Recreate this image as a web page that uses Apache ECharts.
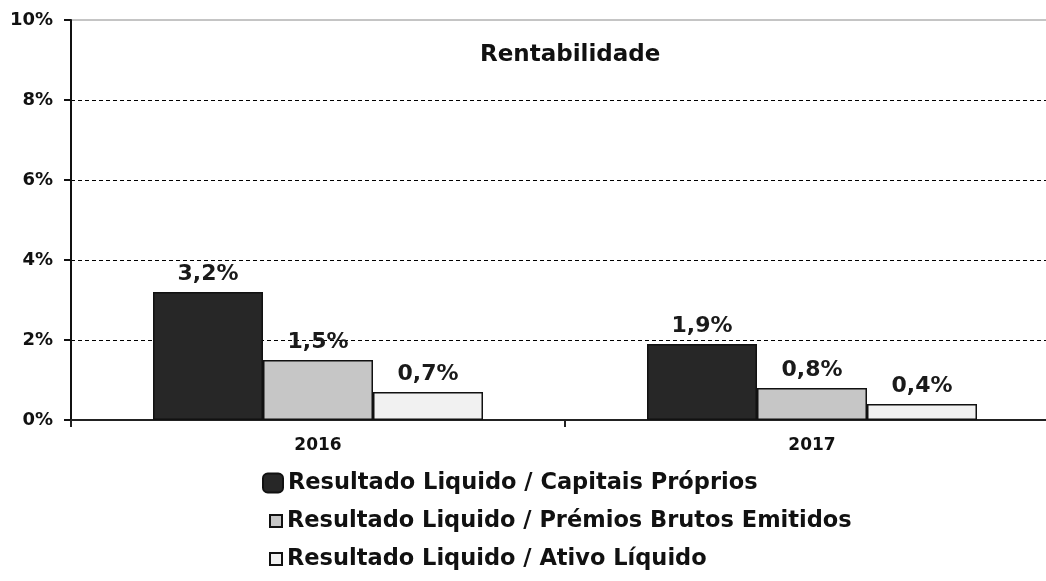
<!DOCTYPE html>
<html>
<head>
<meta charset="utf-8">
<script src="https://cdn.jsdelivr.net/npm/echarts@6/dist/echarts.min.js"></script>
<style>html,body{margin:0;padding:0;background:#fff;overflow:hidden;}#c{width:1060px;height:581px;}</style>
</head>
<body>
<div id="c"></div>
<script>
const categories = ['2016', '2017'];
const seriesNames = [
  'Resultado Liquido / Capitais Próprios',
  'Resultado Liquido / Prémios Brutos Emitidos',
  'Resultado Liquido / Ativo Líquido'
];
const capitaisProprios = [3.2, 1.9];
const premiosBrutos = [1.5, 0.8];
const ativoLiquido = [0.7, 0.4];
const yTicks = [0, 2, 4, 6, 8, 10];

const FONT = 'DejaVu Sans';
const colors = ['#272727', '#c6c6c6', '#f1f1f1'];
const values = [capitaisProprios, premiosBrutos, ativoLiquido];
const legendText = {fontFamily: FONT, fontWeight: 'bold', fontSize: 22.5, color: '#111', lineHeight: 24};

const chart = echarts.init(document.getElementById('c'), null, {renderer: 'canvas'});
chart.setOption({
  animation: false,
  backgroundColor: '#fff',
  title: {
    text: 'Rentabilidade',
    left: 475, top: 39,
    textStyle: {fontFamily: FONT, fontWeight: 'bold', fontSize: 23, color: '#111'}
  },
  grid: {
    left: 71, top: 20, width: 988, bottom: 161,
    show: true, borderColor: '#8a8a8a', borderWidth: 1, backgroundColor: 'transparent'
  },
  legend: [
    {
      orient: 'vertical', left: 262, top: 471, padding: 0,
      itemWidth: 20, itemHeight: 19, icon: 'roundRect',
      data: [seriesNames[0]],
      textStyle: legendText
    },
    {
      orient: 'vertical', left: 269, top: 509, padding: 0,
      itemWidth: 12, itemHeight: 12, itemGap: 14, icon: 'rect',
      data: [seriesNames[1], seriesNames[2]],
      textStyle: legendText
    }
  ],
  xAxis: {
    type: 'category',
    data: categories,
    axisLine: {lineStyle: {color: '#222', width: 2}},
    axisTick: {show: true, length: 7, lineStyle: {color: '#222', width: 2}},
    axisLabel: {fontFamily: FONT, fontWeight: 'bold', fontSize: 17, color: '#111', margin: 17}
  },
  yAxis: {
    type: 'value',
    min: yTicks[0], max: yTicks[yTicks.length - 1], interval: 2,
    axisLine: {show: true, lineStyle: {color: '#111', width: 2}},
    axisTick: {show: true, length: 7, lineStyle: {color: '#111', width: 2}},
    axisLabel: {
      fontFamily: FONT, fontWeight: 'bold', fontSize: 18, color: '#111', margin: 18,
      formatter: v => v + '%'
    },
    splitLine: {
      show: true,
      lineStyle: {
        type: [4, 3], width: 1.2,
        color: ['#000', '#000', '#000', '#000', '#000', 'rgba(0,0,0,0)']
      }
    }
  },
  series: seriesNames.map((name, i) => ({
    name: name,
    type: 'bar',
    data: values[i],
    barWidth: 110,
    barGap: '0%',
    itemStyle: {color: colors[i], borderColor: '#111', borderWidth: 1.5},
    label: {
      show: true, position: 'top', distance: 7,
      fontFamily: FONT, fontWeight: 'bold', fontSize: 22, color: '#1a1a1a',
      formatter: p => p.value.toFixed(1).replace('.', ',') + '%'
    }
  }))
});
</script>
</body>
</html>
